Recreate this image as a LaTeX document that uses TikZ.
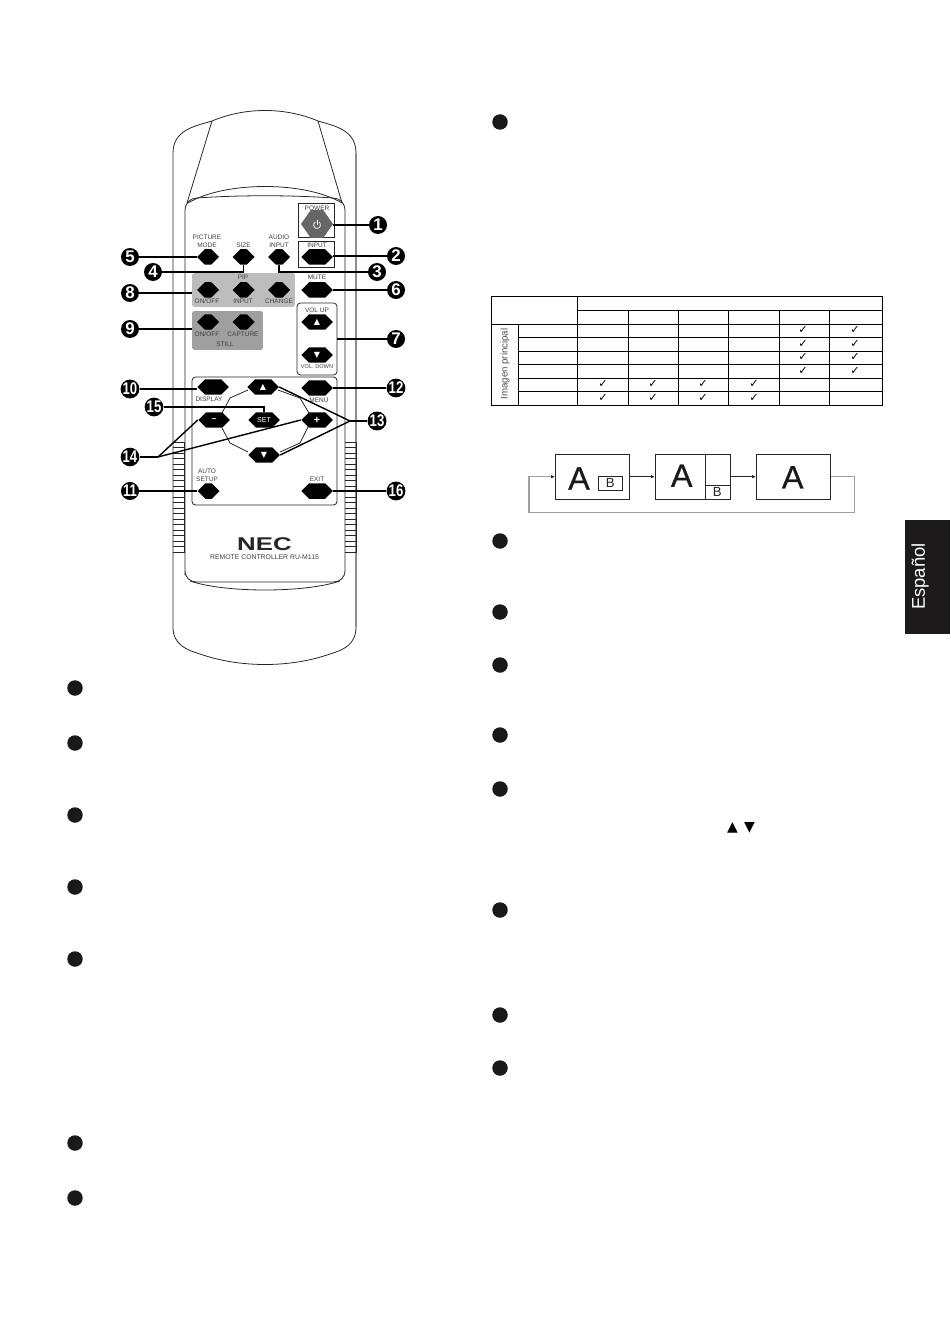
\documentclass[tikz,border=0pt]{standalone}
\usepackage{fontspec}
\setmainfont{Liberation Sans}
\newfontfamily\symbfont{DejaVu Sans}
\newfontfamily\heavyfont[FakeBold=0.5]{Liberation Sans}
\usetikzlibrary{shapes.symbols, arrows.meta}
\definecolor{pipgray}{HTML}{BDBDBD}
\definecolor{stillgray}{HTML}{9F9F9F}
\definecolor{powergray}{HTML}{666666}
\definecolor{returngray}{HTML}{A0A0A0}
\definecolor{tabblack}{HTML}{1C1A1B}
\newcommand{\narrowtwo}[1]{\scalebox{.78}[1]{#1}}
\begin{document}
\begin{tikzpicture}[x=0.02cm, y=-0.02cm,
        thinline/.style={line width=0.45pt, color=black!85},
        wideBtn/.style={signal, signal to=east and west, signal pointer angle=90, fill=black, inner sep=0pt,
            minimum width=0.63cm, minimum height=0.31cm, text=white, font=\fontsize{4}{4}\selectfont},
        smallBtn/.style={wideBtn, minimum width=0.44cm},
        remlabel/.style={align=center, inner sep=0pt, text=black!75, font=\fontsize{3.7}{4.4}\selectfont},
        badge/.style={circle, fill=black, inner sep=0pt, minimum size=0.36cm, text=white, font=\fontsize{9.6}{10}\selectfont\bfseries},
        bullet/.style={circle, fill=black!90, inner sep=0pt, minimum size=0.31cm},
        leader/.style={line width=1.05pt, color=black},
        leaderthin/.style={line width=0.8pt, color=black},
        cellcheck/.style={inner sep=0pt, font=\symbfont\fontsize{6.4}{6.4}\selectfont},
        screen/.style={draw, thinline, fill=white, minimum width=1.48cm, minimum height=0.9cm, inner sep=0pt},
        bigA/.style={inner sep=0pt, font=\heavyfont\fontsize{18.5}{18.5}\selectfont, text=black!90},
        smallB/.style={inner sep=0pt, font=\fontsize{7.5}{7.5}\selectfont, text=black!85},
        flowarrow/.style={thinline, -{Latex[length=2.2pt,width=2pt]}}
    ]
    \useasboundingbox (0,0) rectangle (950,1344);

    % Remote body
    \draw[thinline] (356,153) .. controls (356,130) and (335,126) .. (318,121)
        .. controls (285,107) and (245,107) .. (212,121)
        .. controls (195,126) and (173,130) .. (173,153) -- (173,627)
        .. controls (173,645) and (187,650) .. (200,654)
        .. controls (240,668) and (290,668) .. (330,654)
        .. controls (343,650) and (356,645) .. (356,627);
    \draw[line width=0.6pt, color=black!45] (356,153) -- (356,627);
    \draw[thinline] (212,121) -- (187,203);
    \draw[thinline] (318,121) -- (342,203);
    \draw[thinline] (188,203) .. controls (225,181) and (305,181) .. (342,203);
    \draw[thinline] (185,575) -- (185,211) .. controls (185,203) and (190,198) .. (197,198)
        .. controls (240,195) and (290,195) .. (333,198) .. controls (340,198) and (345,203) .. (345,211) -- (345,570)
        .. controls (345,578) and (340,582) .. (333,582) -- (197,582) .. controls (190,582) and (185,578) .. (185,570) -- cycle;
    \draw[thinline] (190,581) .. controls (225,593) and (305,593) .. (340,581);

    % Grilles
    \foreach \gx in {173,345} {
        \foreach \gy in {442,447.5,...,553} {
            \draw[thinline] (\gx,\gy) -- (\gx+11,\gy);
        }
        \draw[thinline] (\gx+11,442) -- (\gx+11,553);
    }

    % Panels
    \node[fill=pipgray, rounded corners=1.5pt, minimum width=2.06cm, minimum height=0.68cm, inner sep=0pt] (pipPanel) at (243.5,290) {};
    \node[fill=stillgray, rounded corners=1.5pt, minimum width=1.42cm, minimum height=0.78cm, inner sep=0pt] (stillPanel) at (227.5,330.5) {};
    \node[draw, thinline, minimum width=0.72cm, minimum height=0.68cm, inner sep=0pt] (powerBox) at (316,220) {};
    \node[draw, thinline, minimum width=0.72cm, minimum height=0.52cm, inner sep=0pt] (inputBox) at (316,254) {};
    \node[draw, thinline, rounded corners=2pt, minimum width=0.8cm, minimum height=1.44cm, inner sep=0pt] (volBox) at (317,339) {};
    \node[draw, thinline, rounded corners=2pt, minimum width=2.9cm, minimum height=2.56cm, inner sep=0pt] (lowerBox) at (264.5,441) {};

    % Octagon round the arrow keys
    \draw[thinline] (248,390) -- (230,398) -- (222,413);
    \draw[thinline] (222,428) -- (230,443) -- (248,452);
    \draw[thinline] (280,452) -- (300,443) -- (309,425);
    \draw[thinline] (309,413) -- (300,398) -- (278,390);

    % Buttons
    \node[wideBtn, fill=powergray, signal pointer angle=110, minimum width=0.64cm, minimum height=0.56cm] (powerBtn) at (317,224) {};
    \draw[white, line width=0.4pt] (315.25,222) arc[start angle=120, end angle=420, radius=0.07cm];
    \draw[white, line width=0.4pt] (317,220) -- (317,225);
    \node[wideBtn] (inputBtn) at (317,257) {};
    \node[smallBtn] (modeBtn) at (208,257) {};
    \node[smallBtn] (sizeBtn) at (243.5,257) {};
    \node[smallBtn] (audioBtn) at (279,257) {};
    \node[smallBtn] (pipOn) at (208,290) {};
    \node[smallBtn] (pipInput) at (243.5,290) {};
    \node[smallBtn] (pipChange) at (279,290) {};
    \node[wideBtn] (muteBtn) at (317,290) {};
    \node[smallBtn] (stillOn) at (208,322) {};
    \node[smallBtn] (stillCap) at (243.5,322) {};
    \node[wideBtn] (volUp) at (317,322) {\symbfont\fontsize{4.6}{4.6}\selectfont ▲};
    \node[wideBtn] (volDown) at (317,355) {\symbfont\fontsize{4.6}{4.6}\selectfont ▼};
    \node[wideBtn] (displayBtn) at (213,387) {};
    \node[wideBtn] (upBtn) at (263,387) {\symbfont\fontsize{4.6}{4.6}\selectfont ▲};
    \node[wideBtn] (menuBtn) at (317,388) {};
    \node[wideBtn] (minusBtn) at (214,420) {\fontsize{5}{5}\selectfont\bfseries --};
    \node[wideBtn] (setBtn) at (264,420) {SET};
    \node[wideBtn] (plusBtn) at (317,420) {\fontsize{6}{6}\selectfont\bfseries +};
    \node[wideBtn] (downBtn) at (264,455) {\symbfont\fontsize{4.6}{4.6}\selectfont ▼};
    \node[smallBtn] (autoBtn) at (208.5,491) {};
    \node[wideBtn] (exitBtn) at (317,491) {};

    % Button labels
    \node[remlabel] (lPower) at (317,208) {POWER};
    \node[remlabel] (lInput) at (317,245) {INPUT};
    \node[remlabel] (lMode) at (207,241.5) {PICTURE\\MODE};
    \node[remlabel] (lSize) at (243.5,245) {SIZE};
    \node[remlabel] (lAudio) at (279,241.5) {AUDIO\\INPUT};
    \node[remlabel] (lPip) at (243,277) {PIP};
    \node[remlabel] (lMute) at (317,277) {MUTE};
    \node[remlabel] (lOn) at (207,301) {ON/OFF};
    \node[remlabel] (lIn) at (243,301) {INPUT};
    \node[remlabel] (lChange) at (279,301) {CHANGE};
    \node[remlabel] (lStillOn) at (207,334) {ON/OFF};
    \node[remlabel] (lCapture) at (243,334) {CAPTURE};
    \node[remlabel] (lStill) at (225,344) {STILL};
    \node[remlabel] (lVolUp) at (317,310) {VOL UP};
    \node[remlabel, font=\fontsize{3.2}{4}\selectfont] (lVolDown) at (317,367) {VOL. DOWN};
    \node[remlabel] (lDisplay) at (209,399) {DISPLAY};
    \node[remlabel] (lMenu) at (319,400) {MENU};
    \node[remlabel] (lAuto) at (207,475) {AUTO\\SETUP};
    \node[remlabel] (lExit) at (317,479) {EXIT};
    \node[inner sep=0pt, font=\fontsize{10.5}{10.5}\selectfont\bfseries, text=black!85, xscale=1.4] (logo) at (264.5,544) {NEC};
    \node[remlabel, font=\fontsize{3.9}{5}\selectfont] (model) at (264.5,557) {REMOTE CONTROLLER RU-M115};

    % Number badges
    \node[badge] (n1) at (378,225) {1};
    \node[badge] (n2) at (396,256) {2};
    \node[badge] (n3) at (377,272) {3};
    \node[badge] (n4) at (153,272) {4};
    \node[badge] (n5) at (130,257) {5};
    \node[badge] (n6) at (396,290) {6};
    \node[badge] (n7) at (396,339) {7};
    \node[badge] (n8) at (130,293) {8};
    \node[badge] (n9) at (130,329) {9};
    \node[badge] (n10) at (130,389) {\narrowtwo{10}};
    \node[badge] (n11) at (130,491) {\narrowtwo{11}};
    \node[badge] (n12) at (396,388) {\narrowtwo{12}};
    \node[badge] (n13) at (377,421) {\narrowtwo{13}};
    \node[badge] (n14) at (130,457) {\narrowtwo{14}};
    \node[badge] (n15) at (154,407) {\narrowtwo{15}};
    \node[badge] (n16) at (396,491) {\narrowtwo{16}};

    % Leaders
    \draw[leader] (n1) -- (n1 -| powerBtn.east);
    \draw[leader] (n2) -- (n2 -| inputBtn.east);
    \draw[leader] (n3) -| (audioBtn.south);
    \draw[leader] (n4) -| (sizeBtn.south);
    \draw[leader] (n5) -- (n5 -| modeBtn.west);
    \draw[leader] (n6) -- (n6 -| muteBtn.east);
    \draw[leader] (n7) -- (n7 -| volBox.east);
    \draw[leader] (n8) -- (n8 -| pipPanel.west);
    \draw[leader] (n9) -- (n9 -| stillPanel.west);
    \draw[leader] (n10) -- (n10 -| displayBtn.west);
    \draw[leader] (n11) -- (n11 -| autoBtn.west);
    \draw[leader] (n12) -- (n12 -| menuBtn.east);
    \draw[leader] (n16) -- (n16 -| exitBtn.east);
    \draw[leader] (n15) -| (setBtn.north);
    \coordinate (j13) at (350,421);
    \coordinate (j14) at (158,457);
    \draw[leader] (n13) -- (j13);
    \draw[leader] (n14) -- (j14);
    \draw[leaderthin] (j13) -- (upBtn.east);
    \draw[leaderthin] (j13) -- (downBtn.east);
    \draw[leaderthin] (j14) -- (minusBtn.west);
    \draw[leaderthin] (j14) -- (plusBtn.west);

    % Empty bullets
    \foreach \by in {688,743,815,887,959,1143,1198} {
        \node[bullet] (bl\by) at (75,\by) {};
    }
    \foreach \by in {122,541,612,665,735,789,910,1015,1068} {
        \node[bullet] (br\by) at (500,\by) {};
    }
    \node[inner sep=0pt, font=\symbfont\fontsize{8}{8}\selectfont] (triUp) at (732.5,828) {▲};
    \node[inner sep=0pt, font=\symbfont\fontsize{8}{8}\selectfont] (triDown) at (749.5,828) {▼};

    % Table
    \draw[line width=0.55pt] (491.7,296.7) rectangle (882.3,405);
    \draw[line width=0.45pt] (577.3,310) -- (882.3,310);
    \draw[line width=0.45pt] (491.7,324.3) -- (882.3,324.3);
    \foreach \ry in {337.3,351.7,364.3,378.3,391.7} {
        \draw[line width=0.45pt] (518.3,\ry) -- (882.3,\ry);
    }
    \draw[line width=0.45pt] (518.3,324.3) -- (518.3,405);
    \draw[line width=0.45pt] (577.3,296.7) -- (577.3,405);
    \foreach \cx in {628.3,678.3,728.3,779.3,829.3} {
        \draw[line width=0.45pt] (\cx,310) -- (\cx,405);
    }
    \node[rotate=90, inner sep=0pt, text=black!70, font=\fontsize{5.5}{5.5}\selectfont] (imagen) at (505,364) {Imagen principal};
    \foreach \cx in {803,855} {
        \foreach \ry in {330,344,357,371} {
            \node[cellcheck] (c\cx x\ry) at (\cx,\ry) {✓};
        }
    }
    \foreach \cx in {603,653,703,754} {
        \foreach \ry in {384,397.5} {
            \node[cellcheck] (c\cx x\ry) at (\cx,\ry) {✓};
        }
    }

    % Screen sequence
    \node[screen] (screenA) at (592.3,476.7) {};
    \node[screen, minimum width=1.5cm] (screenB) at (692.8,476.7) {};
    \node[screen] (screenC) at (793.3,476.7) {};
    \node[draw, thinline, minimum width=0.49cm, minimum height=0.28cm, inner sep=0pt] (subB) at (610.5,483.3) {};
    \draw[thinline] (705.7,454.3) -- (705.7,499);
    \draw[thinline] (705.7,485.3) -- (730.3,485.3);
    \node[bigA] (aOne) at (579,478.5) {A};
    \node[bigA] (aTwo) at (681.7,475.7) {A};
    \node[bigA] (aThree) at (792.7,477.3) {A};
    \node[smallB] (bOne) at (610.3,483.3) {B};
    \node[smallB] (bTwo) at (717.3,492.3) {B};
    \draw[flowarrow] (screenA.east) -- (screenB.west);
    \draw[flowarrow] (screenB.east) -- (screenC.west);
    \coordinate (retA) at (854.3,512.7);
    \coordinate (retB) at (529,512.7);
    \coordinate (retC) at (551,476.7);
    \draw[line width=0.6pt, color=returngray] (screenC.east) -| (retA) -- (retB) |- (retC);
    \draw[flowarrow] (retC) -- (screenA.west);

    % Language tab
    \node[fill=tabblack, minimum width=0.9cm, minimum height=2.28cm, inner sep=0pt] (tab) at (927.5,577) {};
    \node[rotate=90, inner sep=0pt, text=white, font=\fontsize{10.5}{10.5}\selectfont] (lang) at (920,576.5) {Español};
\end{tikzpicture}
\end{document}
